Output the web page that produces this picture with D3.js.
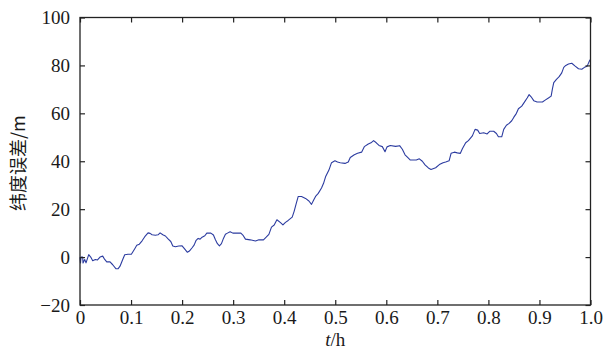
<!DOCTYPE html>
<html>
<head>
<meta charset="utf-8">
<script src="https://cdn.jsdelivr.net/npm/d3@7"></script>
<style>
  html, body { margin: 0; padding: 0; background: #fff; }
  svg { display: block; }
</style>
</head>
<body>
<svg id="chart" width="606" height="351"></svg>
<script>
// Time (fraction of an hour) and latitude error (m)
const tValues = [0, 0.001, 0.002, 0.0053, 0.0059, 0.0092, 0.0118, 0.0171, 0.021, 0.0249, 0.03, 0.0343, 0.0392, 0.0445, 0.0484, 0.0524, 0.0588, 0.0641, 0.0706, 0.0745, 0.0784, 0.0837, 0.0876, 0.0941, 0.1006, 0.1073, 0.1112, 0.1163, 0.1216, 0.1269, 0.1333, 0.1373, 0.1412, 0.1476, 0.1529, 0.1569, 0.1622, 0.1673, 0.1725, 0.1778, 0.1818, 0.1869, 0.1935, 0.2, 0.2053, 0.2104, 0.2143, 0.2196, 0.2235, 0.2275, 0.2314, 0.2353, 0.2392, 0.2445, 0.2484, 0.2563, 0.2614, 0.2653, 0.2692, 0.2731, 0.2771, 0.281, 0.2849, 0.2888, 0.2941, 0.2994, 0.3151, 0.319, 0.3241, 0.3333, 0.3437, 0.3504, 0.3594, 0.3647, 0.37, 0.3751, 0.3804, 0.3857, 0.3922, 0.3975, 0.4025, 0.4078, 0.4157, 0.4196, 0.4235, 0.4275, 0.4339, 0.4418, 0.4484, 0.4535, 0.4575, 0.4614, 0.4667, 0.4731, 0.4771, 0.481, 0.4876, 0.4927, 0.4994, 0.5045, 0.5098, 0.519, 0.5255, 0.5294, 0.5373, 0.5437, 0.5516, 0.5569, 0.5647, 0.57, 0.5751, 0.5804, 0.5857, 0.5922, 0.5975, 0.6014, 0.6078, 0.6182, 0.6261, 0.6314, 0.6367, 0.6418, 0.6471, 0.6588, 0.6647, 0.6706, 0.6759, 0.6824, 0.6876, 0.6967, 0.7039, 0.7112, 0.7163, 0.723, 0.7269, 0.7333, 0.7392, 0.7451, 0.749, 0.7555, 0.7608, 0.7686, 0.7739, 0.779, 0.7829, 0.7908, 0.7975, 0.8025, 0.8104, 0.8157, 0.8196, 0.8261, 0.83, 0.8353, 0.8406, 0.8457, 0.8496, 0.8549, 0.8588, 0.8653, 0.8706, 0.8759, 0.8798, 0.8837, 0.8888, 0.8955, 0.9059, 0.9112, 0.9176, 0.9229, 0.9255, 0.928, 0.9333, 0.9386, 0.9437, 0.9476, 0.9516, 0.9569, 0.9633, 0.97, 0.9765, 0.9829, 0.9882, 0.9935, 0.9975, 1.0];
const errValues = [0, -2.5, 0, 0, -2.5, -1, -2.4, 1, 0, -1.5, -1, -1.2, 0, 0.4, -1, -2, -2, -3.2, -4.9, -4.9, -3.8, -1, 1, 1.2, 1.2, 3.5, 4.9, 5.4, 6.8, 8.5, 10.1, 9.9, 9.3, 9.1, 9.3, 10.1, 9.3, 8.8, 7.6, 6.5, 4.6, 4.3, 4.6, 4.7, 3.3, 2, 2.5, 3.9, 5, 7, 7.8, 7.5, 8.3, 8.9, 10, 10, 9.2, 7.2, 5.6, 4.7, 5.6, 7.8, 9.5, 10, 10.6, 10, 10, 9.2, 7.5, 7.2, 6.7, 7.2, 7.2, 8.3, 9.5, 12.5, 13.4, 15.6, 14.5, 13.4, 14.5, 15.3, 16.7, 19.2, 22.3, 25.3, 25.3, 24.5, 23.4, 22, 23.7, 25.3, 26.6, 28.8, 30.8, 33.5, 36.3, 39.4, 40.2, 39.7, 39.4, 39.1, 39.7, 41.6, 42.7, 43.3, 43.8, 46.1, 47.2, 47.7, 48.6, 47.7, 46.6, 46.1, 44, 46, 46.6, 46.2, 46.5, 45, 42.7, 41.6, 40.5, 40.5, 41, 40, 38.5, 37.2, 36.6, 37.3, 38.6, 39.4, 39.7, 40.2, 43.3, 43.8, 43.5, 43.3, 45.2, 47.7, 48.6, 50.6, 53.3, 53, 51.6, 51.9, 51.4, 52.5, 52.5, 51.6, 50.2, 50.2, 53.3, 55, 55.8, 56.9, 58.3, 60, 61.9, 63, 64.7, 66.4, 67.8, 66.9, 65.3, 64.7, 64.7, 65.5, 66.4, 67.2, 70.3, 72.8, 74.2, 75.3, 76.9, 79.2, 80, 80.6, 80.9, 79.7, 78.6, 78.4, 79.2, 79.7, 81.7, 82.5];

const xTicks = [0, 0.1, 0.2, 0.3, 0.4, 0.5, 0.6, 0.7, 0.8, 0.9, 1.0];
const xTickLabels = ["0", "0.1", "0.2", "0.3", "0.4", "0.5", "0.6", "0.7", "0.8", "0.9", "1.0"];
const yTicks = [-20, 0, 20, 40, 60, 80, 100];
const yTickLabels = ["\u221220", "0", "20", "40", "60", "80", "100"];

const svg = d3.select("#chart");
const m = { left: 80, right: 590.5, top: 17.5, bottom: 305 };

const x = d3.scaleLinear().domain([0, 1]).range([m.left, m.right]);
const y = d3.scaleLinear().domain([-20, 100]).range([m.bottom, m.top]);

const serif = "'Liberation Serif', 'Times New Roman', serif";
const axisColor = "#222";
const tickLen = 5;

// Data line
const points = tValues.map((t, i) => [t, errValues[i]]);
svg.append("path")
  .datum(points)
  .attr("fill", "none")
  .attr("stroke", "#2c3ca0")
  .attr("stroke-width", 1.1)
  .attr("stroke-linejoin", "round")
  .attr("d", d3.line().x(d => x(d[0])).y(d => y(d[1])));

// Axes: labelled bottom/left, unlabelled top/right, all ticks pointing inward
function styleAxis(g) {
  g.select(".domain").remove();
  g.selectAll(".tick line").attr("stroke", axisColor).attr("stroke-width", 1.2);
  g.selectAll(".tick text")
    .attr("fill", "#1a1a1a")
    .style("font-family", serif)
    .style("font-size", "19px");
}

svg.append("g")
  .attr("transform", `translate(0,${m.bottom})`)
  .call(d3.axisBottom(x).tickValues(xTicks)
    .tickFormat((d, i) => xTickLabels[i])
    .tickSizeInner(-tickLen).tickSizeOuter(0).tickPadding(6))
  .call(styleAxis);

svg.append("g")
  .attr("transform", `translate(0,${m.top})`)
  .call(d3.axisTop(x).tickValues(xTicks).tickFormat("")
    .tickSizeInner(-tickLen).tickSizeOuter(0))
  .call(styleAxis);

svg.append("g")
  .attr("transform", `translate(${m.left},0)`)
  .call(d3.axisLeft(y).tickValues(yTicks)
    .tickFormat((d, i) => yTickLabels[i])
    .tickSizeInner(-tickLen).tickSizeOuter(0).tickPadding(10))
  .call(styleAxis);

svg.append("g")
  .attr("transform", `translate(${m.right},0)`)
  .call(d3.axisRight(y).tickValues(yTicks).tickFormat("")
    .tickSizeInner(-tickLen).tickSizeOuter(0))
  .call(styleAxis);

// Frame
svg.append("rect")
  .attr("x", m.left).attr("y", m.top)
  .attr("width", m.right - m.left).attr("height", m.bottom - m.top)
  .attr("fill", "none")
  .attr("stroke", axisColor)
  .attr("stroke-width", 1.3);

// Axis titles
const xTitle = svg.append("text")
  .attr("x", x(0.5)).attr("y", 346)
  .attr("text-anchor", "middle")
  .attr("fill", "#1a1a1a")
  .style("font-family", serif)
  .style("font-size", "19px");
xTitle.append("tspan").style("font-style", "italic").text("t");
xTitle.append("tspan").text("/h");

svg.append("text")
  .attr("transform", `translate(25,${(m.top + m.bottom) / 2 + 2}) rotate(-90)`)
  .attr("text-anchor", "middle")
  .attr("fill", "#1a1a1a")
  .style("font-family", "'Noto Sans CJK SC', 'Liberation Serif', serif")
  .style("font-size", "18px")
  .text("纬度误差/m");
</script>
</body>
</html>
